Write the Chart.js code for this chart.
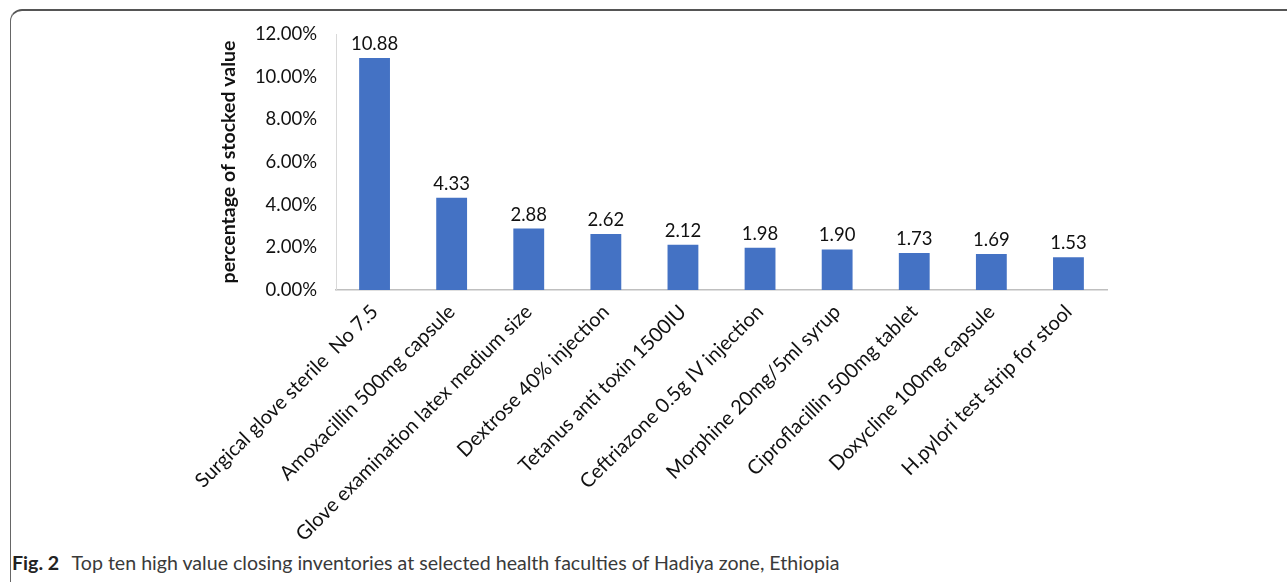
<!DOCTYPE html>
<html>
<head>
<meta charset="utf-8">
<script src="https://cdn.jsdelivr.net/npm/chart.js@4.4.1/dist/chart.umd.min.js"></script>
<style>
    body { margin: 0; background: #fff; width: 1287px; height: 582px; overflow: hidden; position: relative; }
    #frame {
        position: absolute; left: 10px; top: 9px; width: 1320px; height: 620px;
        border-top: 2px solid #555; border-left: 1.5px solid #666;
        border-top-left-radius: 12px;
    }
    #box { position: absolute; left: 0; top: 0; width: 1287px; height: 545px; }
    #caption {
        position: absolute; left: 12px; top: 551px;
        font-family: Lato, sans-serif; font-size: 19.6px; color: #3a3a3a; white-space: nowrap;
    }
    #caption b { color: #222; margin-right: 8px; }
</style>
</head>
<body>
<div id="frame"></div>
<div id="box"><canvas id="barChart"></canvas></div>
<div id="caption"><b>Fig. 2</b> Top ten high value closing inventories at selected health faculties of Hadiya zone, Ethiopia</div>

<script>
// DATA
let items = [
    "Surgical glove sterile  No 7.5",
    "Amoxacillin 500mg capsule",
    "Glove examination latex medium size",
    "Dextrose 40% injection",
    "Tetanus anti toxin 1500IU",
    "Ceftriazone 0.5g IV injection",
    "Morphine 20mg/5ml syrup",
    "Ciproflacillin 500mg tablet",
    "Doxycline 100mg capsule",
    "H.pylori test strip for stool"
];
let percents = [10.88, 4.33, 2.88, 2.62, 2.12, 1.98, 1.90, 1.73, 1.69, 1.53];
let yTicks = [0, 2, 4, 6, 8, 10, 12];

// VALUE LABELS ABOVE BARS
let valueLabels = {
    id: "valueLabels",
    afterDatasetsDraw(chart) {
        let ctx = chart.ctx;
        let meta = chart.getDatasetMeta(0);
        ctx.save();
        ctx.font = "18.5px Lato";
        ctx.fillStyle = "#111";
        ctx.textAlign = "center";
        ctx.textBaseline = "alphabetic";
        meta.data.forEach((bar, i) => {
            ctx.fillText(percents[i].toFixed(2), bar.x, bar.y - 8);
        });
        ctx.restore();
    }
};

let barChart = new Chart(document.getElementById("barChart"), {
    type: "bar",
    data: {
        labels: items,
        datasets: [{
            data: percents,
            backgroundColor: "#4472C4",
            categoryPercentage: 1,
            barPercentage: 0.4
        }]
    },
    options: {
        responsive: true,
        maintainAspectRatio: false,
        animation: false,
        layout: { padding: { left: 215, right: 180, top: 34, bottom: 0 } },
        plugins: {
            legend: { display: false },
            tooltip: { enabled: false }
        },
        scales: {
            x: {
                afterFit: s => { s.height = 255; },
                grid: { display: false, drawTicks: false },
                border: { display: true, color: "#BFBFBF", width: 1.5 },
                ticks: {
                    color: "#111",
                    font: { family: "Lato", size: 20 },
                    minRotation: 45,
                    maxRotation: 45,
                    autoSkip: false,
                    padding: 10
                }
            },
            y: {
                min: 0,
                max: 12,
                afterFit: s => { s.width = 121; },
                afterBuildTicks: s => { s.ticks = yTicks.map(v => ({ value: v })); },
                grid: { display: false, drawTicks: false },
                border: { display: true, color: "#D9D9D9", width: 1 },
                ticks: {
                    color: "#111",
                    font: { family: "Lato", size: 18.5 },
                    padding: 19,
                    callback: v => v.toFixed(2) + "%"
                },
                title: {
                    display: true,
                    text: "percentage of stocked value",
                    color: "#111",
                    padding: { top: 2, bottom: 4 },
                    font: { family: "Lato", size: 19.5, weight: "bold" }
                }
            }
        }
    },
    plugins: [valueLabels]
});
</script>
</body>
</html>
